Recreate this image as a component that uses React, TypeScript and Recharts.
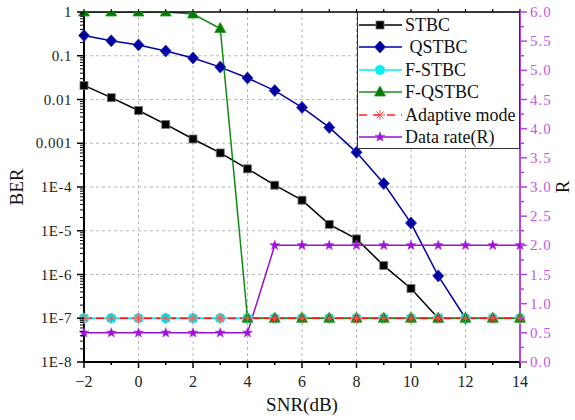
import React from 'react';
import { LineChart, Line, XAxis, YAxis, ReferenceLine } from 'recharts';

const snr = [-2, -1, 0, 1, 2, 3, 4, 5, 6, 7, 8, 9, 10, 11, 12, 13, 14];
const stbc = [0.021, 0.011, 0.0056, 0.0027, 0.00125, 0.0006, 0.00026, 0.00011, 0.00005, 0.000014, 0.0000065, 0.0000016, 0.00000048, 1e-7, null, null, null];
const qstbc = [0.29, 0.22, 0.177, 0.128, 0.089, 0.055, 0.031, 0.016, 0.0066, 0.0023, 0.00062, 0.00012, 0.000015, 9.3e-7, 1e-7, null, null];
const fStbc = [1e-7, 1e-7, 1e-7, 1e-7, 1e-7, 1e-7, 1e-7, 1e-7, 1e-7, 1e-7, 1e-7, 1e-7, 1e-7, 1e-7, 1e-7, 1e-7, 1e-7];
const fQstbc = [1, 1, 1, 1, 0.9, 0.42, 1e-7, 1e-7, 1e-7, 1e-7, 1e-7, 1e-7, 1e-7, 1e-7, 1e-7, 1e-7, 1e-7];
const adaptive = [1e-7, 1e-7, 1e-7, 1e-7, 1e-7, 1e-7, 1e-7, 1e-7, 1e-7, 1e-7, 1e-7, 1e-7, 1e-7, 1e-7, 1e-7, 1e-7, 1e-7];
const dataRate = [0.5, 0.5, 0.5, 0.5, 0.5, 0.5, 0.5, 2, 2, 2, 2, 2, 2, 2, 2, 2, 2];

const berDecades = [1, 0.1, 0.01, 0.001, 1e-4, 1e-5, 1e-6, 1e-7, 1e-8];
const berLabels = ['1', '0.1', '0.01', '0.001', '1E-4', '1E-5', '1E-6', '1E-7', '1E-8'];
const rTicks = [0, 0.25, 0.5, 0.75, 1, 1.25, 1.5, 1.75, 2, 2.25, 2.5, 2.75, 3, 3.25, 3.5, 3.75, 4, 4.25, 4.5, 4.75, 5, 5.25, 5.5, 5.75, 6];
const xGrid = [0, 2, 4, 6, 8, 10, 12];
const yGrid = [0.1, 0.01, 0.001, 1e-4, 1e-5, 1e-6, 1e-7];

const data = snr.map((s, i) => ({
  snr: s,
  stbc: stbc[i],
  qstbc: qstbc[i],
  fStbc: fStbc[i],
  fQstbc: fQstbc[i],
  adaptive: adaptive[i],
  rate: dataRate[i],
}));

const berTicks: number[] = [];
for (let k = 0; k >= -8; k--) {
  berTicks.push(Number(Math.pow(10, k).toPrecision(3)));
  if (k > -8) {
    for (let m = 2; m <= 9; m++) berTicks.push(Number((m * Math.pow(10, k - 1)).toPrecision(3)));
  }
}

const PURPLE_AXIS = '#b445e0';
const PURPLE_TEXT = '#c05ae8';
const PURPLE_LINE = '#9a10cc';
const SERIF = "'Liberation Serif', 'DejaVu Serif', serif";
const serifStyle = (size: number, extra: any = {}) => ({ fontFamily: SERIF, fontSize: size, ...extra });

const Square = ({ cx, cy }: any) => <rect x={cx - 4} y={cy - 4} width={8} height={8} fill="#000" stroke="#777" strokeWidth={0.8} />;
const Diamond = ({ cx, cy }: any) => (
  <polygon points={`${cx},${cy - 6} ${cx + 5.5},${cy} ${cx},${cy + 6} ${cx - 5.5},${cy}`} fill="#0000a0" stroke="#2a2ac0" strokeWidth={0.8} />
);
const Circle = ({ cx, cy }: any) => <circle cx={cx} cy={cy} r={5} fill="#00f0f0" stroke="#70e8e8" strokeWidth={0.8} />;
const Triangle = ({ cx, cy }: any) => (
  <polygon points={`${cx},${cy - 6} ${cx + 5.5},${cy + 4} ${cx - 5.5},${cy + 4}`} fill="#007a00" stroke="#2a9a2a" strokeWidth={0.8} />
);
const Asterisk = ({ cx, cy }: any) => (
  <g stroke="#ff5050" strokeWidth={1}>
    <line x1={cx - 5} y1={cy} x2={cx + 5} y2={cy} />
    <line x1={cx} y1={cy - 5} x2={cx} y2={cy + 5} />
    <line x1={cx - 3.6} y1={cy - 3.6} x2={cx + 3.6} y2={cy + 3.6} />
    <line x1={cx - 3.6} y1={cy + 3.6} x2={cx + 3.6} y2={cy - 3.6} />
  </g>
);
const Star = ({ cx, cy }: any) => {
  const pts: string[] = [];
  for (let i = 0; i < 10; i++) {
    const r = i % 2 === 0 ? 5.2 : 2.2;
    const a = -Math.PI / 2 + (i * Math.PI) / 5;
    pts.push(`${cx + r * Math.cos(a)},${cy + r * Math.sin(a)}`);
  }
  return <polygon points={pts.join(' ')} fill="#a010d8" stroke="#b040e0" strokeWidth={0.6} />;
};

const mkDot = (Shape: any) => (props: any) => {
  const { cx, cy, index, value } = props;
  if (cx == null || cy == null || value == null || Number.isNaN(cy)) return <g key={`d${index}`} />;
  return <Shape key={`d${index}`} cx={cx} cy={cy} />;
};

const LeftTick = (props: any) => {
  const { x, y, payload } = props;
  const v = payload.value;
  const lg = Math.log10(v);
  const major = Math.abs(lg - Math.round(lg)) < 1e-6;
  const idx = berDecades.findIndex((d) => Math.abs(Math.log10(d) - lg) < 1e-6);
  return (
    <g>
      <line x1={x} x2={x - (major ? 7 : 4)} y1={y} y2={y} stroke="#000" strokeWidth={major ? 1.5 : 1} />
      {major && idx >= 0 && (
        <text x={x - 12} y={y} dy={5} textAnchor="end" style={serifStyle(15, { letterSpacing: '0.5px' })} fill="#222">
          {berLabels[idx]}
        </text>
      )}
    </g>
  );
};

const RightTick = (props: any) => {
  const { x, y, payload } = props;
  const v = payload.value;
  const major = Math.abs(v * 2 - Math.round(v * 2)) < 1e-6;
  return (
    <g>
      <line x1={x} x2={x + (major ? 7 : 4)} y1={y} y2={y} stroke={PURPLE_AXIS} strokeWidth={1.5} />
      {major && (
        <text x={x + 10} y={y} dy={5} textAnchor="start" style={serifStyle(15, { letterSpacing: '1px' })} fill={PURPLE_TEXT}>
          {v.toFixed(1)}
        </text>
      )}
    </g>
  );
};

const BottomTick = (props: any) => {
  const { x, y, payload } = props;
  const v = payload.value;
  const major = v % 2 === 0;
  return (
    <g>
      <line x1={x} x2={x} y1={y} y2={y + (major ? 6 : 3)} stroke="#000" strokeWidth={1.5} />
      {major && (
        <text x={x} y={y + 25} textAnchor="middle" style={serifStyle(16)} fill="#222">
          {v < 0 ? `\u2212${Math.abs(v)}` : String(v)}
        </text>
      )}
    </g>
  );
};

const TopTick = (props: any) => {
  const { x, y } = props;
  return <line x1={x} x2={x} y1={y} y2={y - 3} stroke="#000" strokeWidth={1.2} />;
};

const legendItems = [
  { name: 'STBC', color: '#000', Shape: Square, dash: undefined as string | undefined },
  { name: ' QSTBC', color: '#0000a8', Shape: Diamond, dash: undefined },
  { name: 'F-STBC', color: '#00f0f0', Shape: Circle, dash: undefined },
  { name: 'F-QSTBC', color: '#1a8c1a', Shape: Triangle, dash: undefined },
  { name: 'Adaptive mode', color: '#ff2020', Shape: Asterisk, dash: '8 6' },
  { name: 'Data rate(R)', color: PURPLE_LINE, Shape: Star, dash: undefined },
];

const LegendBox = () => (
  <div
    style={{
      position: 'absolute',
      left: 357,
      top: 12,
      width: 163,
      height: 137,
      boxSizing: 'border-box',
      border: '1px solid #333',
      background: '#fff',
    }}
  >
    {legendItems.map((it, i) => {
      const c = 12 + 22.4 * i;
      return (
        <div key={it.name} style={{ position: 'absolute', left: 0, top: c - 11, height: 22, width: 162 }}>
          <svg width={46} height={22} style={{ position: 'absolute', left: 0, top: 0 }}>
            <line x1={1} x2={44} y1={11} y2={11} stroke={it.color} strokeWidth={1.5} strokeDasharray={it.dash} />
            <it.Shape cx={22} cy={11} />
          </svg>
          <div
            style={{
              position: 'absolute',
              left: 47,
              top: 0,
              height: 22,
              lineHeight: '22px',
              fontFamily: SERIF,
              fontSize: 18,
              whiteSpace: 'pre',
              color: '#111',
            }}
          >
            {it.name}
          </div>
        </div>
      );
    })}
  </div>
);

export default function App() {
  return (
    <div style={{ position: 'absolute', left: 0, top: 0, width: 575, height: 420, background: '#fff' }}>
      <LineChart width={575} height={420} data={data} margin={{ top: 8, right: 0, bottom: 0, left: 0 }}>
        <XAxis
          xAxisId="top"
          orientation="top"
          dataKey="snr"
          type="number"
          domain={[-2, 14]}
          ticks={snr}
          interval={0}
          height={4}
          tickSize={0}
          tickMargin={0}
          tickLine={false}
          axisLine={{ stroke: '#000', strokeWidth: 1.5 }}
          tick={<TopTick />}
        />
        <XAxis
          xAxisId="bottom"
          dataKey="snr"
          type="number"
          domain={[-2, 14]}
          ticks={snr}
          interval={0}
          height={58}
          tickSize={0}
          tickMargin={0}
          tickLine={false}
          axisLine={{ stroke: '#000', strokeWidth: 2 }}
          tick={<BottomTick />}
          label={{
            content: (p: any) => {
              const vb = p.viewBox;
              return (
                <text x={vb.x + vb.width / 2} y={vb.y + 49} textAnchor="middle" style={serifStyle(19)} fill="#111">
                  SNR(dB)
                </text>
              );
            },
          }}
        />
        <YAxis
          yAxisId="left"
          scale="log"
          type="number"
          domain={[1e-8, 1]}
          allowDataOverflow
          ticks={berTicks}
          interval={0}
          width={84}
          tickSize={0}
          tickMargin={0}
          tickLine={false}
          axisLine={{ stroke: '#000', strokeWidth: 2 }}
          tick={<LeftTick />}
          label={{
            content: (p: any) => {
              const vb = p.viewBox;
              const lx = vb.x + 23;
              const ly = vb.y + vb.height / 2;
              return (
                <text x={lx} y={ly} transform={`rotate(-90, ${lx}, ${ly})`} textAnchor="middle" style={serifStyle(19)} fill="#111">
                  BER
                </text>
              );
            },
          }}
        />
        <YAxis
          yAxisId="right"
          orientation="right"
          type="number"
          domain={[0, 6]}
          ticks={rTicks}
          interval={0}
          width={55}
          tickSize={0}
          tickMargin={0}
          tickLine={false}
          axisLine={{ stroke: PURPLE_AXIS, strokeWidth: 2 }}
          tick={<RightTick />}
          label={{
            content: (p: any) => {
              const vb = p.viewBox;
              const lx = vb.x + 49;
              const ly = vb.y + vb.height / 2;
              return (
                <text x={lx} y={ly} transform={`rotate(-90, ${lx}, ${ly})`} textAnchor="middle" style={serifStyle(19)} fill="#111">
                  R
                </text>
              );
            },
          }}
        />
        {xGrid.map((g) => (
          <ReferenceLine key={`gx${g}`} x={g} xAxisId="bottom" yAxisId="left" stroke="#b8b8b8" strokeDasharray="3 3" strokeWidth={1} />
        ))}
        {yGrid.map((g) => (
          <ReferenceLine key={`gy${g}`} y={g} xAxisId="bottom" yAxisId="left" stroke="#b8b8b8" strokeDasharray="3 3" strokeWidth={1} />
        ))}
        <Line xAxisId="bottom" yAxisId="left" dataKey="stbc" stroke="#000" strokeWidth={1.5} dot={mkDot(Square)} isAnimationActive={false} />
        <Line xAxisId="bottom" yAxisId="left" dataKey="qstbc" stroke="#0000a8" strokeWidth={1.5} dot={mkDot(Diamond)} isAnimationActive={false} />
        <Line xAxisId="bottom" yAxisId="left" dataKey="fStbc" stroke="#00f0f0" strokeWidth={2} dot={mkDot(Circle)} isAnimationActive={false} />
        <Line xAxisId="bottom" yAxisId="left" dataKey="fQstbc" stroke="#108a10" strokeWidth={1.5} dot={mkDot(Triangle)} isAnimationActive={false} />
        <Line xAxisId="bottom" yAxisId="left" dataKey="adaptive" stroke="#ff1010" strokeWidth={1.5} strokeDasharray="8 4" dot={mkDot(Asterisk)} isAnimationActive={false} />
        <Line xAxisId="bottom" yAxisId="right" dataKey="rate" stroke={PURPLE_LINE} strokeWidth={1.5} dot={mkDot(Star)} isAnimationActive={false} />
      </LineChart>
      <LegendBox />
    </div>
  );
}
